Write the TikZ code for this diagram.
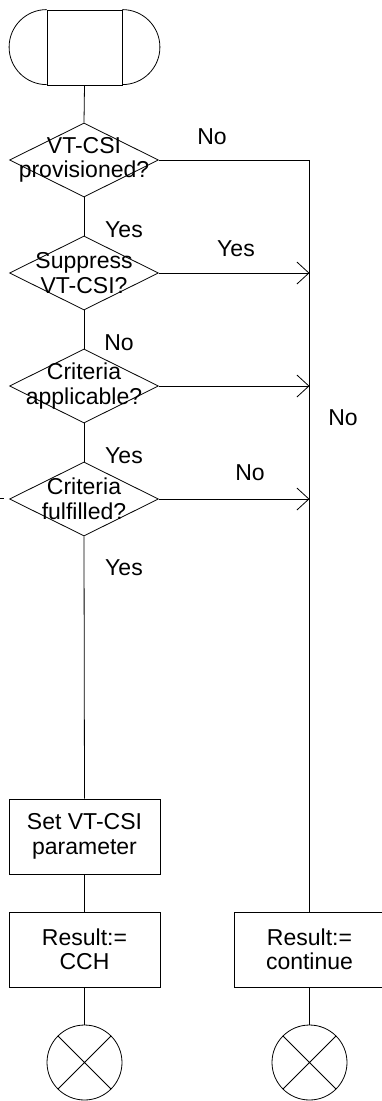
\documentclass[tikz,border=0pt]{standalone}
\usepackage{fontspec}
\setmainfont{Liberation Sans}
\usepackage{tikz}
\usetikzlibrary{arrows.meta,shapes.geometric}

\tikzset{
  txt/.style={font=\fontsize{23}{24.5}\selectfont},
  decision/.style={diamond,draw,minimum width=149pt,minimum height=74pt,inner sep=0pt},
  task/.style={rectangle,draw,minimum width=151pt,minimum height=75pt,align=center,txt},
  stopper/.style={circle,draw,minimum size=75pt,inner sep=0pt,
    path picture={\draw (path picture bounding box.north west)--(path picture bounding box.south east)
                        (path picture bounding box.north east)--(path picture bounding box.south west);}},
  lbl/.style={txt,inner sep=0pt},
  flow/.style={-{Straight Barb[length=12pt,width=22pt]}}
}

\begin{document}
\begin{tikzpicture}[x=1pt,y=1pt,line width=0.8pt]
            \useasboundingbox (0,0) rectangle (382,-1101);

            % start symbol
            \node[rectangle,draw,minimum width=75pt,minimum height=75pt] (start) at (84.5,-47.5) {};
            \draw (start.north west) arc (90:270:37.5);
            \draw (start.north east) arc (90:-90:37.5);

            % decisions
            \node[decision,label={[txt,align=center]center:VT-CSI\\provisioned?}] (prov) at (84,-160) {};
            \node[decision,label={[txt,align=center]center:Suppress\\VT-CSI?}] (supp) at (84,-273) {};
            \node[decision,label={[txt,align=center]center:Criteria\\applicable?}] (appl) at (84,-386) {};
            \node[decision,label={[txt,align=center]center:Criteria\\fulfilled?}] (fulf) at (84,-499) {};

            % tasks
            \node[task] (setpar) at (84.5,-836.5) {Set VT-CSI\\parameter};
            \node[task] (rescch) at (84.5,-949.5) {Result:=\\CCH};
            \node[task] (rescont) at (309.5,-949.5) {Result:=\\continue};

            % ends
            \node[stopper] (endcch) at (84.5,-1062.5) {};
            \node[stopper] (endcont) at (309.5,-1062.5) {};

            % left branch
            \draw (start.south) -- (prov.north);
            \draw (prov.south) -- (supp.north);
            \draw (supp.south) -- (appl.north);
            \draw (appl.south) -- (fulf.north);
            \draw (fulf.south) -- (setpar.north);
            \draw (setpar.south) -- (rescch.north);
            \draw (rescch.south) -- (endcch.north);

            % right branch
            \draw (prov.east) -| (rescont.north);
            \draw[flow] (supp.east) -- (supp.east -| rescont.north);
            \draw[flow] (appl.east) -- (appl.east -| rescont.north);
            \draw[flow] (fulf.east) -- (fulf.east -| rescont.north);
            \draw (rescont.south) -- (endcont.north);

            % stub from the left
            \coordinate (stub) at (0,-498);
            \draw (stub) -- ++(4,0);

            % labels
            \node[lbl] (l1) at (212,-137) {No};
            \node[lbl] (l2) at (124,-230) {Yes};
            \node[lbl] (l3) at (236,-249) {Yes};
            \node[lbl] (l4) at (119,-343) {No};
            \node[lbl] (l5) at (343,-418) {No};
            \node[lbl] (l6) at (124,-456) {Yes};
            \node[lbl] (l7) at (250,-473) {No};
            \node[lbl] (l8) at (124,-568) {Yes};
\end{tikzpicture}
\end{document}
